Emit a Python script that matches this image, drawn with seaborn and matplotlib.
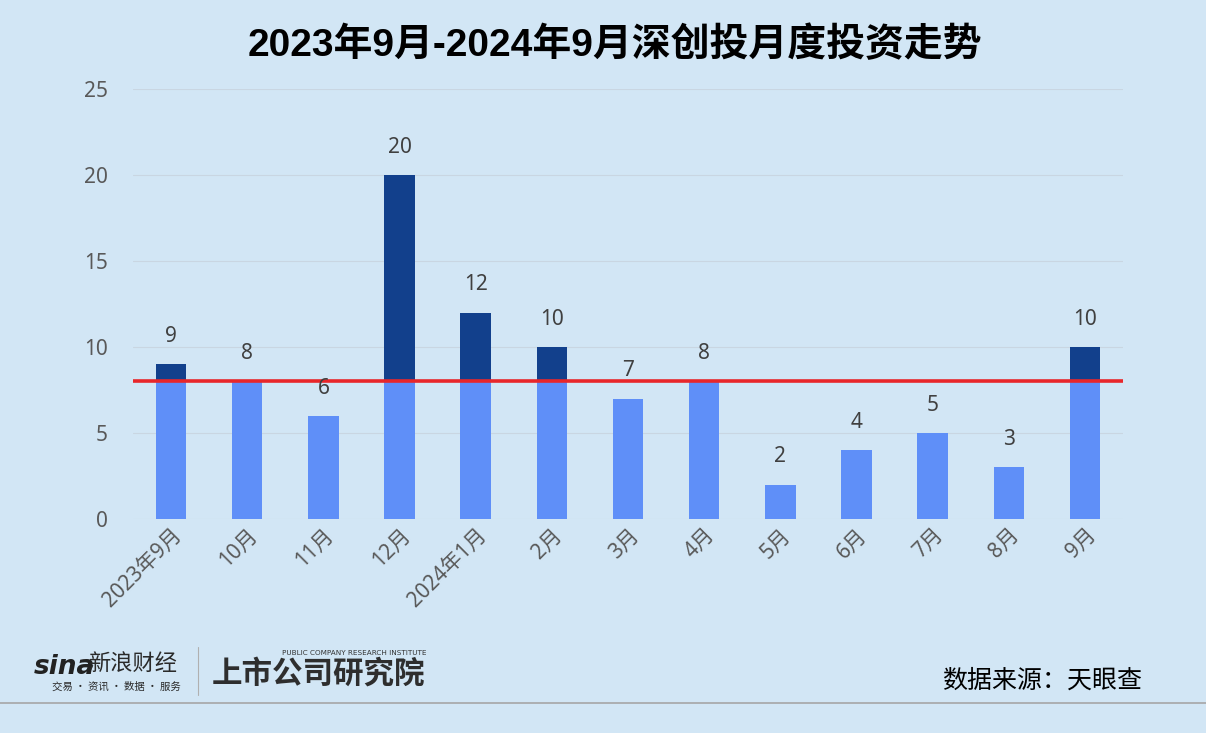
import matplotlib
matplotlib.use("Agg")
import matplotlib.pyplot as plt
import numpy as np
import pandas as pd
import seaborn as sns

months = ["2023年9月", "10月", "11月", "12月", "2024年1月", "2月", "3月",
          "4月", "5月", "6月", "7月", "8月", "9月"]
counts = [9, 8, 6, 20, 12, 10, 7, 8, 2, 4, 5, 3, 10]
threshold = 8

BG = "#d2e6f5"
LIGHT = "#5f8ff8"
DARK = "#12408c"
FONTS = ["Noto Sans", "Noto Sans CJK SC", "DejaVu Sans"]

sns.set_theme(style="white")
plt.rcParams["font.family"] = FONTS

df = pd.DataFrame({"month": months, "count": counts})
df["base"] = df["count"].clip(upper=threshold)

fig = plt.figure(figsize=(12.06, 7.33), dpi=100, facecolor=BG)
ax = fig.add_axes([0.1103, 0.2920, 0.8209, 0.5866])
ax.set_facecolor(BG)

# full bar in dark, lower part (up to the line) in light on top of it
sns.barplot(data=df, x="month", y="count", color=DARK, width=0.4,
            saturation=1, linewidth=0, ax=ax, zorder=2)
sns.barplot(data=df, x="month", y="base", color=LIGHT, width=0.4,
            saturation=1, linewidth=0, ax=ax, zorder=3)

ax.axhline(threshold, color="#e8262a", lw=2.6, zorder=4)

for i, v in enumerate(counts):
    ax.text(i, v + 1.0, str(v), ha="center", va="bottom",
            fontsize=15, color="#404040", zorder=5)

ax.set_xlim(-0.5, 12.5)
ax.set_ylim(0, 25)
ax.set_yticks(range(0, 26, 5))
ax.yaxis.grid(True, color="#c9d6e2", lw=0.8, zorder=0)
ax.set_axisbelow(True)
ax.set_xlabel("")
ax.set_ylabel("")
for s in ax.spines.values():
    s.set_visible(False)
ax.tick_params(axis="y", length=0, pad=18, labelsize=15, labelcolor="#595959")
ax.tick_params(axis="x", length=0, pad=4, labelsize=15, labelcolor="#595959")
plt.setp(ax.get_xticklabels(), rotation=45, ha="right", rotation_mode="anchor")

fig.text(0.51, 0.938, "2023年9月-2024年9月深创投月度投资走势", ha="center",
         va="center", fontsize=28, fontweight="bold", color="black",
         family=["Liberation Sans", "Noto Sans CJK SC"])

# footer
fig.add_artist(plt.Line2D([0, 1], [1 - 703 / 733] * 2, color="#a6a6a6", lw=1.2))
fig.add_artist(plt.Line2D([198 / 1206] * 2, [1 - 647 / 733, 1 - 695 / 733],
                          color="#b0b0b0", lw=0.8))
fig.text(34 / 1206, 1 - 667 / 733, "sina", fontsize=19, fontweight="bold",
         style="italic", color="#222222", va="center", family="DejaVu Sans")
fig.text(88 / 1206, 1 - 663 / 733, "新浪财经", fontsize=16, color="#2a2a2a",
         va="center", family="Noto Sans CJK SC")
fig.text(52 / 1206, 1 - 687 / 733, "交易 · 资讯 · 数据 · 服务", fontsize=7.5,
         color="#2a2a2a", va="center", family="Noto Sans CJK SC")
fig.text(212 / 1206, 1 - 674 / 733, "上市公司研究院", fontsize=22,
         fontweight="heavy", color="#2e2e2e", va="center",
         family="Noto Sans CJK SC")
fig.text(282 / 1206, 1 - 653 / 733, "PUBLIC COMPANY RESEARCH INSTITUTE",
         fontsize=5.2, color="#333333", va="center", family="DejaVu Sans")
fig.text(1142 / 1206, 1 - 681 / 733, "数据来源：天眼查", ha="right", va="center",
         fontsize=18, color="black", family="Noto Sans CJK SC")

fig.savefig("out.png", dpi=100, facecolor=BG)
